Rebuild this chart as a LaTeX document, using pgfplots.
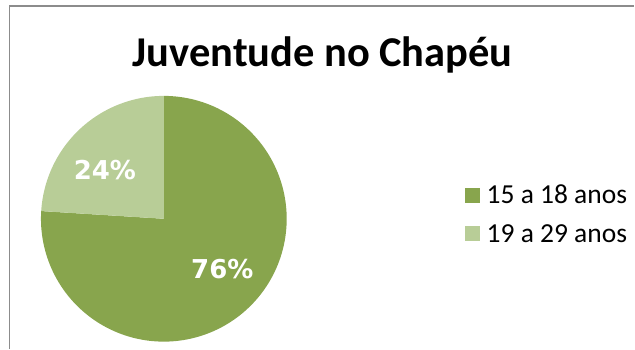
\documentclass[border=0pt]{standalone}
\usepackage{pgfplots}
\pgfplotsset{compat=1.18}
\usepackage{fontspec}
\setmainfont{Carlito}
\newfontfamily\labfont{DejaVu Sans}
\definecolor{darkg}{HTML}{88A54D}
\definecolor{lightg}{HTML}{B8CD97}
\definecolor{frame}{HTML}{8C8C8C}
% values (percent)
\def\vA{76}
\def\vB{24}
\begin{document}
\begin{tikzpicture}
\begin{axis}[
  width=635pt, height=349pt, scale only axis,
  xmin=0, xmax=635, ymin=0, ymax=349,
  hide axis, clip=false,
  legend style={at={(axis cs:462,168)}, anchor=north west, draw=none, fill=none,
    font=\fontsize{27.5}{29}\selectfont, row sep=15pt,
    /tikz/every odd column/.append style={column sep=5pt}},
  legend cell align=left,
  legend image code/.code={\fill[#1] (0pt,-7.5pt) rectangle (15pt,7.5pt);},
]
\path (axis cs:0,0) rectangle (axis cs:635,349);
% pie: centre (164,130), radius 123; first slice clockwise from top
\addplot[fill=darkg, draw=none, domain={90-3.6*\vA}:90, samples=150, variable=\t]
  ({164+123*cos(\t)},{130+123*sin(\t)}) -- (axis cs:164,130) -- cycle;
\addlegendentry{15 a 18 anos}
\addplot[fill=lightg, draw=none, domain=90:{90+3.6*\vB}, samples=60, variable=\t]
  ({164+123*cos(\t)},{130+123*sin(\t)}) -- (axis cs:164,130) -- cycle;
\addlegendentry{19 a 29 anos}
\node[anchor=base, text=white, font=\labfont\bfseries\fontsize{26}{28}\selectfont] at (axis cs:105,169) {\vB\%};
\node[anchor=base, text=white, font=\labfont\bfseries\fontsize{26}{28}\selectfont] at (axis cs:222.5,70.7) {\vA\%};
\node[anchor=base, font=\bfseries\fontsize{42.5}{45}\selectfont] at (axis cs:323,282.3) {Juventude no Chapéu};
\draw[frame, line width=1.3pt] (axis cs:9.5,0) -- (axis cs:9.5,343) -- (axis cs:635,343);
\end{axis}
\end{tikzpicture}
\end{document}
